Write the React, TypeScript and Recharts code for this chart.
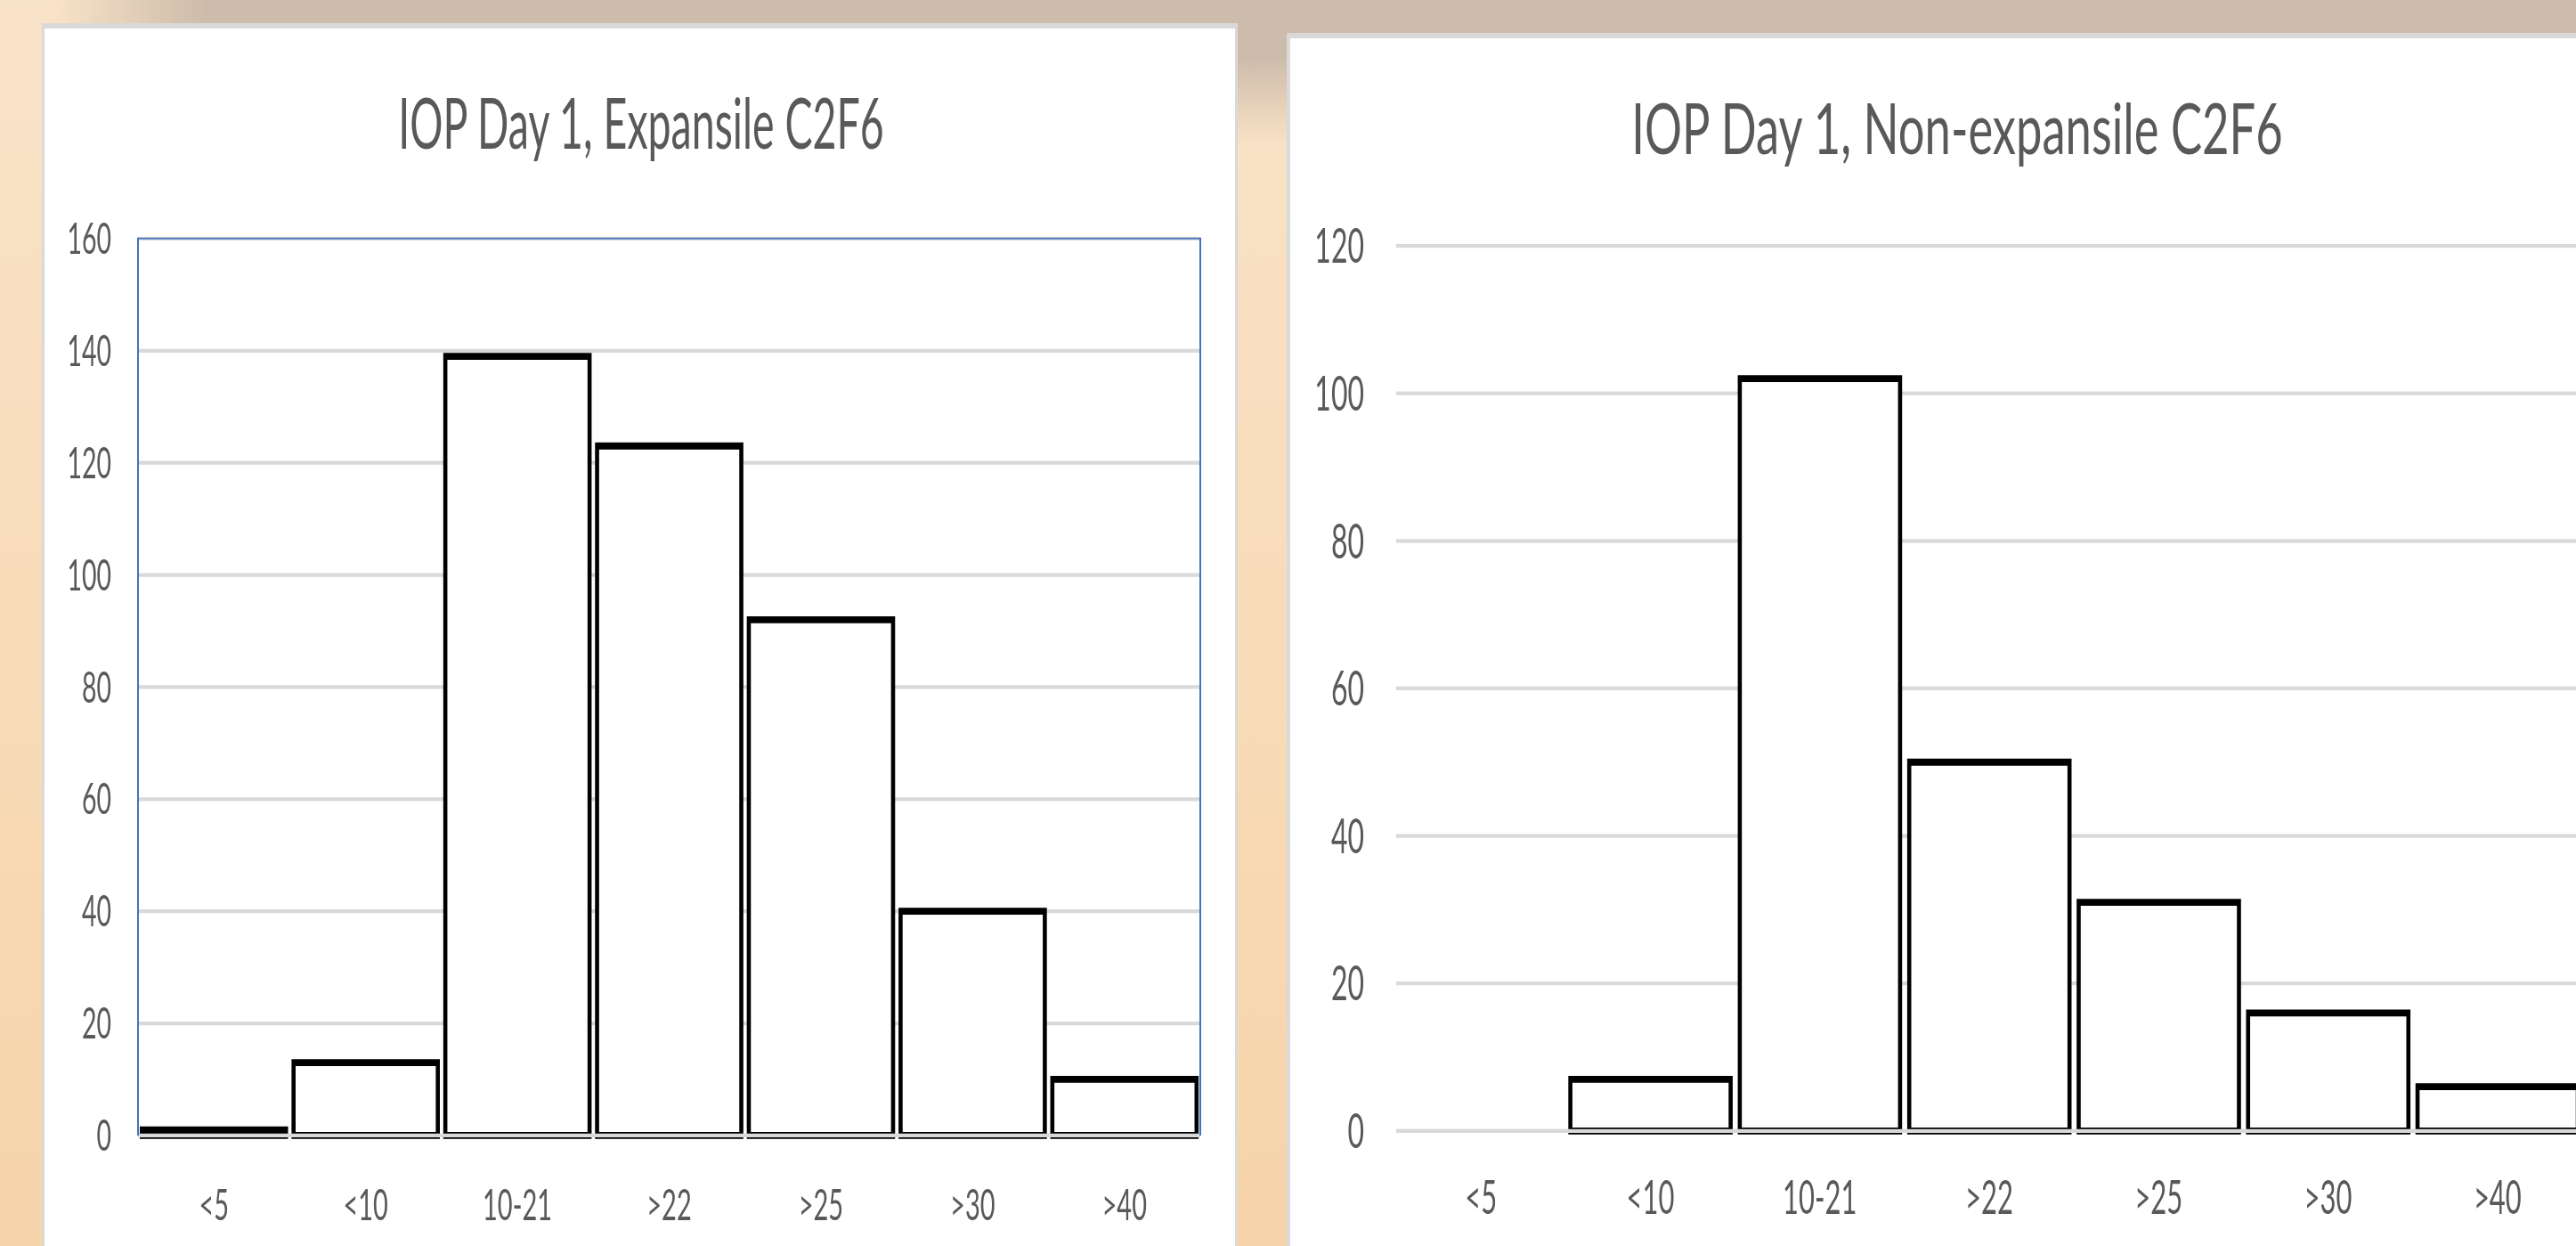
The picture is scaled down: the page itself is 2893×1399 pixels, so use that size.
import { BarChart, Bar, XAxis, YAxis, CartesianGrid } from "recharts";

// IOP ranges on the x axis
const categories = ["<5", "<10", "10-21", ">22", ">25", ">30", ">40"];

// eye counts
const expansileCounts = [1, 13, 139, 123, 92, 40, 10];
const nonExpansileCounts = [0, 7, 102, 50, 31, 16, 6];

const expansileTicks = [0, 20, 40, 60, 80, 100, 120, 140, 160];
const nonExpansileTicks = [0, 20, 40, 60, 80, 100, 120];

const expansileData = categories.map((name, i) => ({ name, count: expansileCounts[i] }));
const nonExpansileData = categories.map((name, i) => ({ name, count: nonExpansileCounts[i] }));

// the slide screenshot is stretched vertically, so the charts are drawn
// flatter and scaled back up
const STRETCH = 1.7;
const INNER_H = 1399 / STRETCH;

const FONT = "Lato, 'Open Sans', sans-serif";
const TEXT = "#595959";
const GRID = "#d9d9d9";
const BLUE = "#4472c4";

// left plot box (pre-stretch px)
const LEFT_PLOT = { x: 155, y: 157.6, w: 1193, h: 592.4 };

const titleStyle: React.CSSProperties = {
  position: "absolute",
  fontFamily: FONT,
  fontSize: 46.5,
  lineHeight: "1",
  color: TEXT,
  textAlign: "center",
  whiteSpace: "nowrap",
};

export default function App() {
  return (
    <div
      style={{
        position: "absolute",
        left: 0,
        top: 0,
        width: 2893,
        height: 1399,
        overflow: "hidden",
        background: "linear-gradient(to bottom, #f9e3c8 0%, #f7d4aa 100%)",
      }}
    >
      {/* tan strip along the top of the slide */}
      <div
        style={{
          position: "absolute",
          left: 0,
          top: 0,
          width: 2893,
          height: 170,
          background:
            "linear-gradient(to bottom, #cdbcab 0px, #cdbcab 66px, rgba(205,188,171,0) 160px)",
          WebkitMaskImage: "linear-gradient(to right, transparent 60px, black 230px)",
          maskImage: "linear-gradient(to right, transparent 60px, black 230px)",
        }}
      />

      {/* chart cards */}
      <div
        style={{
          position: "absolute",
          left: 47,
          top: 26,
          width: 1343,
          height: 1420,
          boxSizing: "border-box",
          background: "#fff",
          borderTop: "6px solid #d9d9d9",
          borderLeft: "3px solid #d9d9d9",
          borderRight: "3px solid #d9d9d9",
        }}
      />
      <div
        style={{
          position: "absolute",
          left: 1445,
          top: 37,
          width: 1500,
          height: 1420,
          boxSizing: "border-box",
          background: "#fff",
          borderTop: "6px solid #d9d9d9",
          borderLeft: "4px solid #d9d9d9",
        }}
      />

      <div
        style={{
          position: "absolute",
          left: 0,
          top: 0,
          width: 2893,
          height: INNER_H,
          transform: `scaleY(${STRETCH})`,
          transformOrigin: "0 0",
        }}
      >
        <div style={{ ...titleStyle, left: 0, width: 1440, top: 57 }}>
          IOP Day 1, Expansile C2F6
        </div>
        <div
          style={{
            ...titleStyle,
            left: 1698,
            width: 1000,
            top: 60.5,
            transform: "scaleX(1.13)",
            transformOrigin: "50% 50%",
          }}
        >
          IOP Day 1, Non-expansile C2F6
        </div>

        {/* left panel */}
        <div style={{ position: "absolute", left: 0, top: 0 }}>
          <BarChart
            width={1390}
            height={INNER_H}
            data={expansileData}
            margin={{ top: LEFT_PLOT.y, right: 42, bottom: 13, left: 55 }}
            barCategoryGap="2.5%"
          >
            <CartesianGrid vertical={false} stroke={GRID} strokeWidth={2.5} />
            <XAxis
              dataKey="name"
              interval={0}
              height={60}
              tickSize={0}
              tickMargin={35.5}
              tickLine={false}
              axisLine={{ stroke: GRID, strokeWidth: 2.5 }}
              tick={{ fill: TEXT, fontSize: 29, fontFamily: FONT }}
            />
            <YAxis
              domain={[0, 160]}
              ticks={expansileTicks}
              interval={0}
              width={100}
              tickSize={0}
              tickMargin={30}
              tickLine={false}
              axisLine={false}
              tick={{ fill: TEXT, fontSize: 28.5, fontFamily: FONT }}
            />
            <Bar
              dataKey="count"
              fill="#ffffff"
              stroke="#000000"
              strokeWidth={4.6}
              isAnimationActive={false}
            />
          </BarChart>
        </div>
        {/* blue plot-area outline of the left panel */}
        <div
          style={{
            position: "absolute",
            left: LEFT_PLOT.x - 1,
            top: LEFT_PLOT.y - 1,
            width: LEFT_PLOT.w + 2,
            height: LEFT_PLOT.h + 1,
            boxSizing: "border-box",
            borderTop: `1.8px solid ${BLUE}`,
            borderLeft: `2px solid ${BLUE}`,
            borderRight: `2px solid ${BLUE}`,
            pointerEvents: "none",
          }}
        />

        {/* right panel */}
        <div style={{ position: "absolute", left: 1445, top: 0 }}>
          <BarChart
            width={1455}
            height={INNER_H}
            data={nonExpansileData}
            margin={{ top: 162.4, right: 0, bottom: 16, left: 33 }}
            barCategoryGap="2.8%"
          >
            <CartesianGrid vertical={false} stroke={GRID} strokeWidth={2.5} />
            <XAxis
              dataKey="name"
              interval={0}
              height={60}
              tickSize={0}
              tickMargin={33}
              tickLine={false}
              axisLine={{ stroke: GRID, strokeWidth: 2.5 }}
              tick={{ fill: TEXT, fontSize: 31, fontFamily: FONT }}
            />
            <YAxis
              domain={[0, 120]}
              ticks={nonExpansileTicks}
              interval={0}
              width={90}
              tickSize={0}
              tickMargin={36}
              tickLine={false}
              axisLine={false}
              tick={{ fill: TEXT, fontSize: 32, fontFamily: FONT }}
            />
            <Bar
              dataKey="count"
              fill="#ffffff"
              stroke="#000000"
              strokeWidth={4.6}
              isAnimationActive={false}
            />
          </BarChart>
        </div>
      </div>
    </div>
  );
}
